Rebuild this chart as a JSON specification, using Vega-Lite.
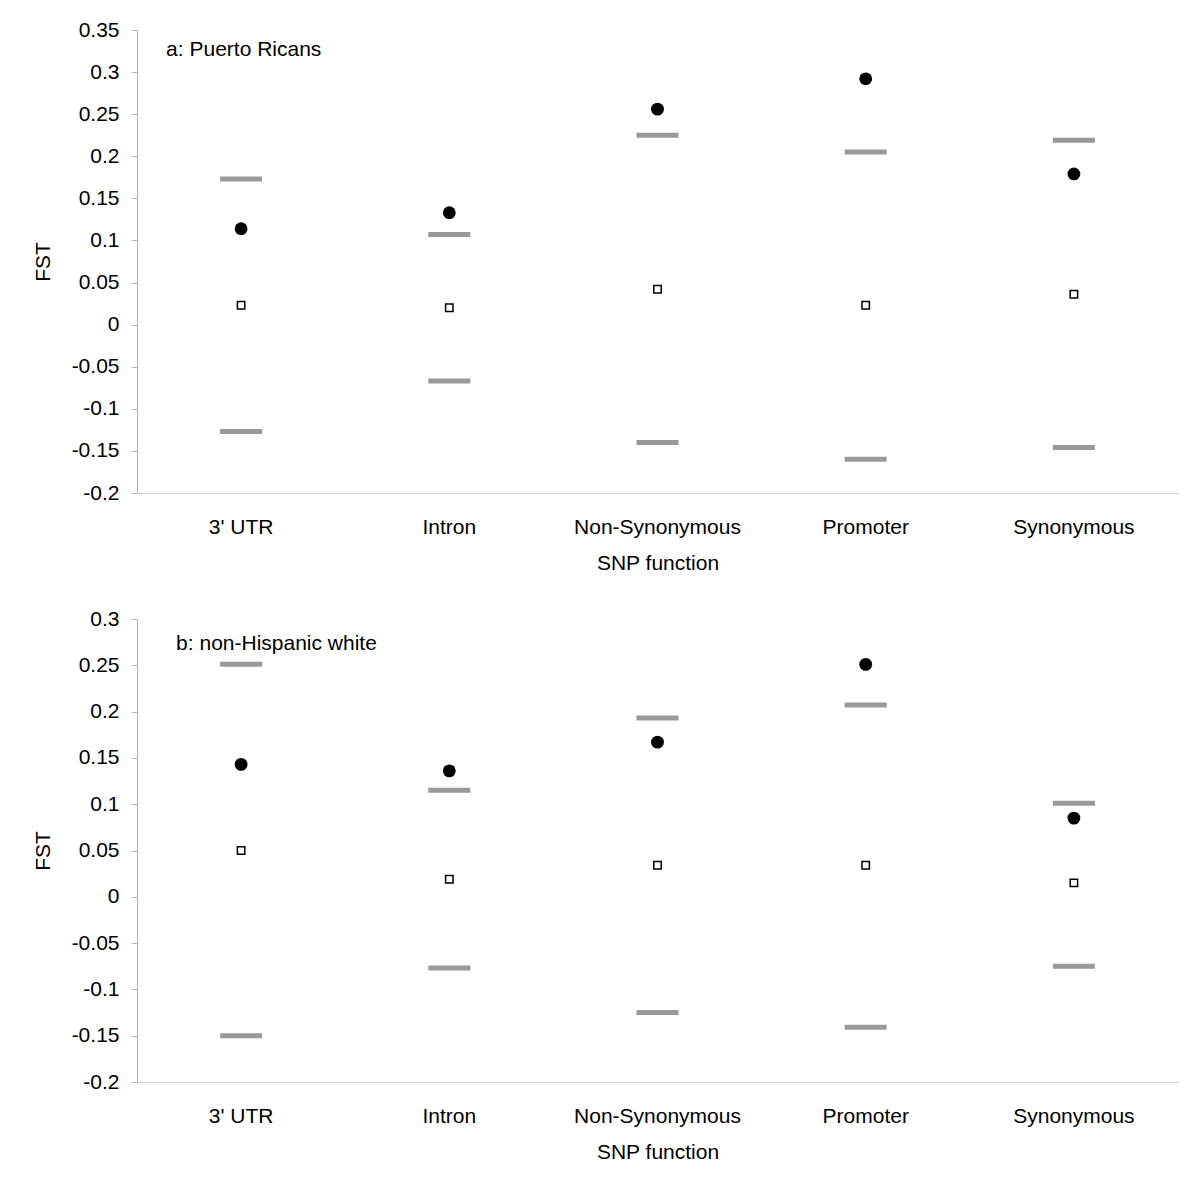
{
  "$schema": "https://vega.github.io/schema/vega-lite/v6.json",
  "background": "white",
  "padding": {"left": 32, "top": 19, "right": 5, "bottom": 5},
  "config": {
    "font": "Liberation Sans",
    "view": {"stroke": null},
    "concat": {"spacing": 35},
    "axis": {
      "domainColor": "#b4b4b4",
      "tickColor": "#b4b4b4",
      "labelColor": "black",
      "titleColor": "black",
      "labelFontSize": 21,
      "titleFontSize": 21,
      "titleFontWeight": "normal",
      "grid": false
    },
    "axisX": {"domainColor": "#d4d4d4"}
  },
  "datasets": {
    "a": [
      {"func": "3' UTR", "kind": "bound", "value": 0.173},
      {"func": "3' UTR", "kind": "bound", "value": -0.127},
      {"func": "3' UTR", "kind": "obs", "value": 0.114},
      {"func": "3' UTR", "kind": "mean", "value": 0.023},
      {"func": "Intron", "kind": "bound", "value": 0.107},
      {"func": "Intron", "kind": "bound", "value": -0.067},
      {"func": "Intron", "kind": "obs", "value": 0.133},
      {"func": "Intron", "kind": "mean", "value": 0.020},
      {"func": "Non-Synonymous", "kind": "bound", "value": 0.225},
      {"func": "Non-Synonymous", "kind": "bound", "value": -0.140},
      {"func": "Non-Synonymous", "kind": "obs", "value": 0.256},
      {"func": "Non-Synonymous", "kind": "mean", "value": 0.042},
      {"func": "Promoter", "kind": "bound", "value": 0.205},
      {"func": "Promoter", "kind": "bound", "value": -0.160},
      {"func": "Promoter", "kind": "obs", "value": 0.292},
      {"func": "Promoter", "kind": "mean", "value": 0.023},
      {"func": "Synonymous", "kind": "bound", "value": 0.219},
      {"func": "Synonymous", "kind": "bound", "value": -0.146},
      {"func": "Synonymous", "kind": "obs", "value": 0.179},
      {"func": "Synonymous", "kind": "mean", "value": 0.036}
    ],
    "b": [
      {"func": "3' UTR", "kind": "bound", "value": 0.251},
      {"func": "3' UTR", "kind": "bound", "value": -0.150},
      {"func": "3' UTR", "kind": "obs", "value": 0.143},
      {"func": "3' UTR", "kind": "mean", "value": 0.050},
      {"func": "Intron", "kind": "bound", "value": 0.115},
      {"func": "Intron", "kind": "bound", "value": -0.077},
      {"func": "Intron", "kind": "obs", "value": 0.136},
      {"func": "Intron", "kind": "mean", "value": 0.019},
      {"func": "Non-Synonymous", "kind": "bound", "value": 0.193},
      {"func": "Non-Synonymous", "kind": "bound", "value": -0.125},
      {"func": "Non-Synonymous", "kind": "obs", "value": 0.167},
      {"func": "Non-Synonymous", "kind": "mean", "value": 0.034},
      {"func": "Promoter", "kind": "bound", "value": 0.207},
      {"func": "Promoter", "kind": "bound", "value": -0.141},
      {"func": "Promoter", "kind": "obs", "value": 0.251},
      {"func": "Promoter", "kind": "mean", "value": 0.034},
      {"func": "Synonymous", "kind": "bound", "value": 0.101},
      {"func": "Synonymous", "kind": "bound", "value": -0.075},
      {"func": "Synonymous", "kind": "obs", "value": 0.085},
      {"func": "Synonymous", "kind": "mean", "value": 0.015}
    ],
    "labels": [
      {"panel": "a", "label": "a: Puerto Ricans"},
      {"panel": "b", "label": "b: non-Hispanic white"}
    ]
  },
  "vconcat": [
    {
      "width": 1041,
      "height": 463,
      "data": {"name": "a"},
      "encoding": {
        "x": {
          "field": "func", "type": "nominal",
          "sort": ["3' UTR", "Intron", "Non-Synonymous", "Promoter", "Synonymous"],
          "scale": {"paddingInner": 0, "paddingOuter": 0},
          "axis": {"title": "SNP function", "labelAngle": 0, "ticks": false, "labelPadding": 23, "titlePadding": 15}
        }
      },
      "layer": [
        {
          "transform": [{"filter": "datum.kind == 'bound'"}],
          "mark": {"type": "tick", "orient": "horizontal", "color": "#999999", "thickness": 5, "size": 42, "opacity": 1},
          "encoding": {
            "y": {
              "field": "value", "type": "quantitative",
              "scale": {"domain": [-0.2, 0.35], "nice": false, "zero": false},
              "axis": {"title": "FST", "values": [-0.2, -0.15, -0.1, -0.05, 0, 0.05, 0.1, 0.15, 0.2, 0.25, 0.3, 0.35], "labelExpr": "toString(datum.value)", "tickSize": 6, "labelPadding": 12, "titlePadding": 18}
            }
          }
        },
        {
          "transform": [{"filter": "datum.kind == 'obs'"}],
          "mark": {"type": "point", "shape": "circle", "filled": true, "color": "black", "size": 165, "opacity": 1},
          "encoding": {"y": {"field": "value", "type": "quantitative"}}
        },
        {
          "transform": [{"filter": "datum.kind == 'mean'"}],
          "mark": {"type": "point", "shape": "square", "filled": true, "fill": "white", "stroke": "black", "strokeWidth": 1.5, "size": 55, "opacity": 1},
          "encoding": {"y": {"field": "value", "type": "quantitative"}}
        },
        {
          "data": {"name": "labels"},
          "transform": [{"filter": "datum.panel == 'a'"}],
          "mark": {"type": "text", "align": "left", "baseline": "middle", "fontSize": 21, "dx": -75, "color": "black"},
          "encoding": {
            "text": {"field": "label"},
            "x": {"datum": "3' UTR", "type": "nominal"},
            "y": {"datum": 0.326, "type": "quantitative"}
          }
        }
      ]
    },
    {
      "width": 1041,
      "height": 463,
      "data": {"name": "b"},
      "encoding": {
        "x": {
          "field": "func", "type": "nominal",
          "sort": ["3' UTR", "Intron", "Non-Synonymous", "Promoter", "Synonymous"],
          "scale": {"paddingInner": 0, "paddingOuter": 0},
          "axis": {"title": "SNP function", "labelAngle": 0, "ticks": false, "labelPadding": 23, "titlePadding": 15}
        }
      },
      "layer": [
        {
          "transform": [{"filter": "datum.kind == 'bound'"}],
          "mark": {"type": "tick", "orient": "horizontal", "color": "#999999", "thickness": 5, "size": 42, "opacity": 1},
          "encoding": {
            "y": {
              "field": "value", "type": "quantitative",
              "scale": {"domain": [-0.2, 0.3], "nice": false, "zero": false},
              "axis": {"title": "FST", "values": [-0.2, -0.15, -0.1, -0.05, 0, 0.05, 0.1, 0.15, 0.2, 0.25, 0.3], "labelExpr": "toString(datum.value)", "tickSize": 6, "labelPadding": 12, "titlePadding": 18}
            }
          }
        },
        {
          "transform": [{"filter": "datum.kind == 'obs'"}],
          "mark": {"type": "point", "shape": "circle", "filled": true, "color": "black", "size": 165, "opacity": 1},
          "encoding": {"y": {"field": "value", "type": "quantitative"}}
        },
        {
          "transform": [{"filter": "datum.kind == 'mean'"}],
          "mark": {"type": "point", "shape": "square", "filled": true, "fill": "white", "stroke": "black", "strokeWidth": 1.5, "size": 55, "opacity": 1},
          "encoding": {"y": {"field": "value", "type": "quantitative"}}
        },
        {
          "data": {"name": "labels"},
          "transform": [{"filter": "datum.panel == 'b'"}],
          "mark": {"type": "text", "align": "left", "baseline": "middle", "fontSize": 21, "dx": -65, "color": "black"},
          "encoding": {
            "text": {"field": "label"},
            "x": {"datum": "3' UTR", "type": "nominal"},
            "y": {"datum": 0.273, "type": "quantitative"}
          }
        }
      ]
    }
  ]
}
